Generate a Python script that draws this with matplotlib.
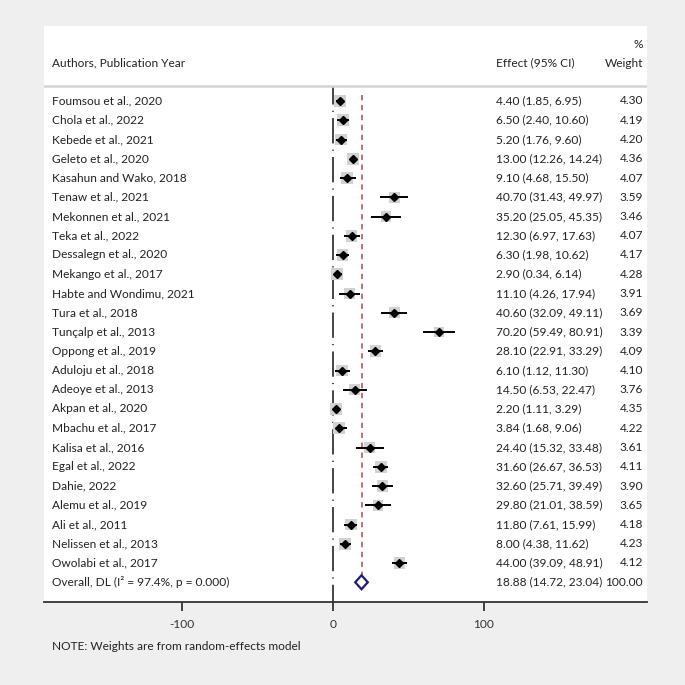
import matplotlib.pyplot as plt
from matplotlib.patches import Polygon

plt.rcParams['font.family'] = ['Lato', 'DejaVu Sans']

# study data
studies = ["Foumsou et al., 2020", "Chola et al., 2022", "Kebede et al., 2021",
           "Geleto et al., 2020", "Kasahun and Wako, 2018", "Tenaw et al., 2021",
           "Mekonnen et al., 2021", "Teka et al., 2022", "Dessalegn et al., 2020",
           "Mekango et al., 2017", "Habte and Wondimu, 2021", "Tura et al., 2018",
           "Tunçalp et al., 2013", "Oppong et al., 2019", "Aduloju et al., 2018",
           "Adeoye et al., 2013", "Akpan et al., 2020", "Mbachu et al., 2017",
           "Kalisa et al., 2016", "Egal et al., 2022", "Dahie, 2022",
           "Alemu et al., 2019", "Ali et al., 2011", "Nelissen et al., 2013",
           "Owolabi et al., 2017"]
effect = [4.40, 6.50, 5.20, 13.00, 9.10, 40.70, 35.20, 12.30, 6.30, 2.90, 11.10, 40.60,
          70.20, 28.10, 6.10, 14.50, 2.20, 3.84, 24.40, 31.60, 32.60, 29.80, 11.80, 8.00, 44.00]
lower = [1.85, 2.40, 1.76, 12.26, 4.68, 31.43, 25.05, 6.97, 1.98, 0.34, 4.26, 32.09,
         59.49, 22.91, 1.12, 6.53, 1.11, 1.68, 15.32, 26.67, 25.71, 21.01, 7.61, 4.38, 39.09]
upper = [6.95, 10.60, 9.60, 14.24, 15.50, 49.97, 45.35, 17.63, 10.62, 6.14, 17.94, 49.11,
         80.91, 33.29, 11.30, 22.47, 3.29, 9.06, 33.48, 36.53, 39.49, 38.59, 15.99, 11.62, 48.91]
weight = [4.30, 4.19, 4.20, 4.36, 4.07, 3.59, 3.46, 4.07, 4.17, 4.28, 3.91, 3.69,
          3.39, 4.09, 4.10, 3.76, 4.35, 4.22, 3.61, 4.11, 3.90, 3.65, 4.18, 4.23, 4.12]
overall = (18.88, 14.72, 23.04)
overall_label = "Overall, DL (I\u00b2 = 97.4%, p = 0.000)"

W = 685
fig = plt.figure(figsize=(6.85, 6.85), dpi=100, facecolor="#efefef")
ax = fig.add_axes([44 / W, (W - 602) / W, (647 - 44) / W, (602 - 26) / W])
ax.set_facecolor("white")

px = 1.51  # pixels per effect unit
ax.set_xlim((44 - 333) / px, (647 - 333) / px)
ax.set_ylim((602 - 101) / 19.25, (26 - 101) / 19.25)

txt = "#222222"
fs = 8.6
x_lab = (52 - 333) / px
x_eff = (496 - 333) / px
x_wt = (643 - 333) / px

# header
ax.text(x_lab, -1.97, "Authors, Publication Year", fontsize=fs, color=txt, va="center")
ax.text(x_eff, -1.97, "Effect (95% CI)", fontsize=fs, color=txt, va="center")
ax.text(x_wt, -1.97, "Weight", fontsize=fs, color=txt, va="center", ha="right")
ax.text(x_wt, -2.96, "%", fontsize=fs, color=txt, va="center", ha="right")
ax.axhline(-0.78, color="#d4d4d4", lw=1.8)

# null line and overall line
ax.plot([0, 0], [-0.72, 26.03], color="#444444", lw=1.4,
        linestyle=(4, (13, 3.2, 0.6, 3.2)), zorder=1)
ax.plot([overall[0], overall[0]], [-0.3, 24.62], color="#b5474f", lw=1.1,
        linestyle=(0, (3.5, 3)), zorder=1)

rows = list(range(len(studies)))
ax.scatter(effect, rows, s=[w * 17 for w in weight], marker="s", color="#d2d2d2",
           edgecolors="none", zorder=2)
ax.hlines(rows, lower, upper, color="black", lw=1.4, zorder=3)
ax.plot(effect, rows, "D", color="black", markersize=4.5, zorder=4)

for i in rows:
    ax.text(x_lab, i, studies[i], fontsize=fs, color=txt, va="center")
    ax.text(x_eff, i, f"{effect[i]:.2f} ({lower[i]:.2f}, {upper[i]:.2f})",
            fontsize=fs, color=txt, va="center")
    ax.text(x_wt, i, f"{weight[i]:.2f}", fontsize=fs, color=txt, va="center", ha="right")

yo = len(studies)
h = 7 / 19.25
ax.add_patch(Polygon([(overall[1], yo), (overall[0], yo - h), (overall[2], yo),
                      (overall[0], yo + h)], closed=True, fill=False,
                     edgecolor="#1c1c7e", lw=1.6, zorder=5))
ax.text(x_lab, yo, overall_label, fontsize=fs, color=txt, va="center")
ax.text(x_eff, yo, f"{overall[0]:.2f} ({overall[1]:.2f}, {overall[2]:.2f})",
        fontsize=fs, color=txt, va="center")
ax.text(x_wt, yo, "100.00", fontsize=fs, color=txt, va="center", ha="right")

for s in ["top", "left", "right"]:
    ax.spines[s].set_visible(False)
ax.spines["bottom"].set_color("#333333")
ax.spines["bottom"].set_linewidth(1.3)
ax.set_yticks([])
ax.set_xticks([-100, 0, 100])
ax.set_xticklabels(["-100", "0", "100"])
ax.tick_params(axis="x", length=6.5, width=1.3, color="#333333", labelsize=fs,
               labelcolor="#333333", pad=6)

fig.text(52 / W, 1 - 647 / W, "NOTE: Weights are from random-effects model",
         fontsize=fs, color=txt, va="center")

fig.savefig("out.png", dpi=100, facecolor=fig.get_facecolor())
